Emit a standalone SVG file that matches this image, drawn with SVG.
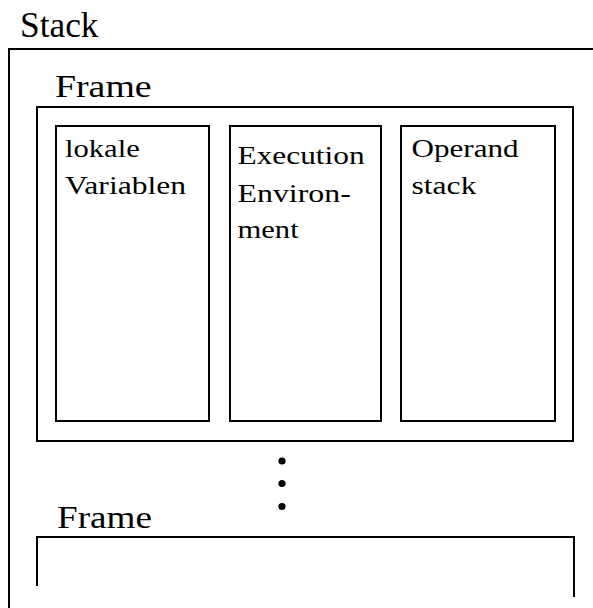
<svg xmlns="http://www.w3.org/2000/svg" width="593" height="608" viewBox="0 0 593 608">
<style>
  .ln { fill: none; stroke: #000; stroke-width: 2; }
  .dot { fill: #000; }
</style>
<rect width="593" height="608" fill="#fff"/>
<g id="stack">
  <path class="ln" d="M9,608 V49 H593"/>
  <text font-family="Georgia, Times New Roman, serif" font-size="35" transform="translate(20,37) scale(1.01,1)">Stack</text>
</g>
<g id="frame1">
  <text font-family="Times New Roman, serif" font-size="31" transform="translate(55,97) scale(1.22,1)">Frame</text>
  <rect class="ln" x="37" y="107" width="536" height="334"/>
</g>
<g id="lokale-variablen">
  <rect class="ln" x="56" y="126" width="153" height="295"/>
  <text font-family="Times New Roman, serif" font-size="25.5" transform="translate(65,156.7) scale(1.2,1)">lokale</text>
  <text font-family="Times New Roman, serif" font-size="25.5" transform="translate(65,194.3) scale(1.24,1)">Variablen</text>
</g>
<g id="execution-environment">
  <rect class="ln" x="230" y="126" width="151" height="295"/>
  <text font-family="Times New Roman, serif" font-size="25.5" transform="translate(237.5,163.5) scale(1.23,1)">Execution</text>
  <text font-family="Times New Roman, serif" font-size="25.5" transform="translate(237.5,201.5) scale(1.25,1)">Environ-</text>
  <text font-family="Times New Roman, serif" font-size="25.5" transform="translate(237.5,238.3) scale(1.2,1)">ment</text>
</g>
<g id="operand-stack">
  <rect class="ln" x="401" y="126" width="154" height="295"/>
  <text font-family="Times New Roman, serif" font-size="25.5" transform="translate(411.5,156.5) scale(1.22,1)">Operand</text>
  <text font-family="Times New Roman, serif" font-size="25.5" transform="translate(411.5,194.3) scale(1.24,1)">stack</text>
</g>
<g id="ellipsis">
  <circle class="dot" cx="282" cy="461" r="3.6"/>
  <circle class="dot" cx="282" cy="483.5" r="3.6"/>
  <circle class="dot" cx="282" cy="506.5" r="3.6"/>
</g>
<g id="frame2">
  <text font-family="Times New Roman, serif" font-size="31" transform="translate(57,527.7) scale(1.2,1)">Frame</text>
  <path class="ln" d="M37,586 V537 H574 V597"/>
</g>
<g id="connectors"></g>
</svg>
